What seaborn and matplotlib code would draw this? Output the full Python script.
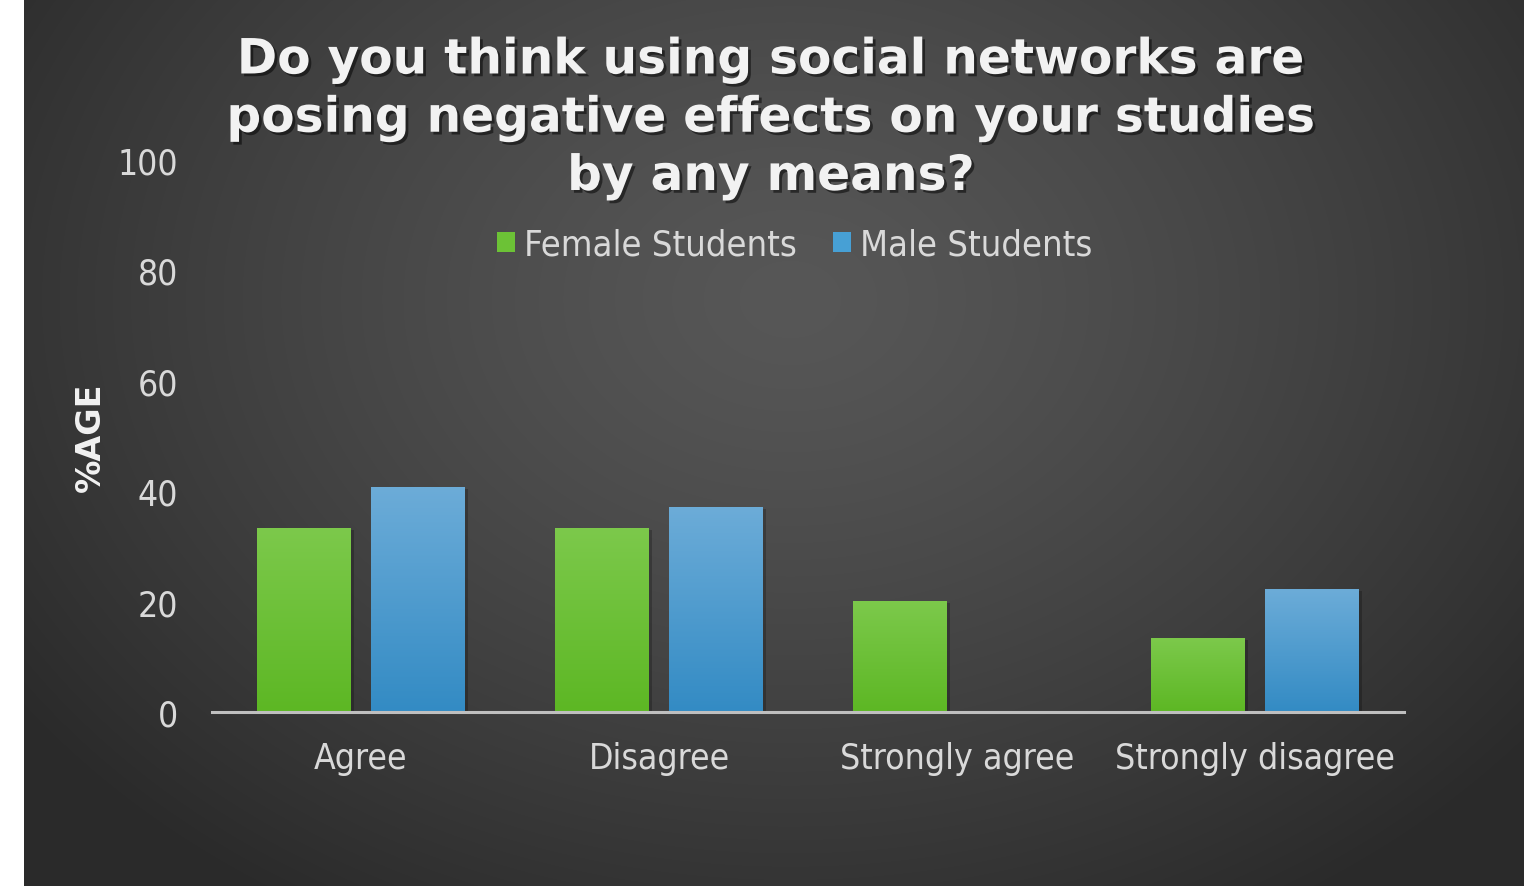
import numpy as np
import pandas as pd
import matplotlib
matplotlib.use("Agg")
import matplotlib.pyplot as plt
import matplotlib.font_manager as fm
from matplotlib import patheffects as pe
from matplotlib.colors import LinearSegmentedColormap
import seaborn as sns

# ---------------- data ----------------
categories = ["Agree", "Disagree", "Strongly agree", "Strongly disagree"]
series = ["Female Students", "Male Students"]
female = [33.3, 33.3, 20.0, 13.3]
male = [40.7, 37.0, 0.0, 22.2]
yticks = [0, 20, 40, 60, 80, 100]
title = ("Do you think using social networks are\n"
         "posing negative effects on your studies\n"
         "by any means?")
ylabel = "%AGE"

df = pd.DataFrame({
    "Response": categories * 2,
    "Group": [series[0]] * len(categories) + [series[1]] * len(categories),
    "Percent": female + male,
})

# ---------------- style ----------------
sns.set_theme(style="white")
plt.rcParams["font.family"] = ["DejaVu Sans"]

cond = [f.fname for f in fm.fontManager.ttflist
        if "condensed" in f.fname.lower() and "dejavusans" in f.fname.lower().replace("-", "")
        and "bold" not in f.fname.lower() and "oblique" not in f.fname.lower()]
if cond:
    fp_tick = fm.FontProperties(fname=cond[0], size=25.5)
    fp_leg = fm.FontProperties(fname=cond[0], size=26)
else:
    fp_tick = fm.FontProperties(family="DejaVu Sans", size=23.5)
    fp_leg = fm.FontProperties(family="DejaVu Sans", size=24)

W, H = 1532, 887
fig = plt.figure(figsize=(W / 100, H / 100), dpi=100, facecolor="white")

# background panel with radial gradient
bg = fig.add_axes([24 / W, 0, 1500 / W, 1], zorder=0)
yy, xx = np.mgrid[0:H, 24:1524]
r = np.sqrt(((xx - 790) / 950.0) ** 2 + ((yy - 300) / 720.0) ** 2)
r = np.clip(r, 0, 1)
light, dark = 0x57, 0x2a
val = (light - (light - dark) * r ** 1.3) / 255.0
bg.imshow(np.dstack([val, val, val]), aspect="auto", extent=(0, 1, 0, 1), origin="upper")
bg.set_xlim(0, 1)
bg.set_ylim(0, 1)
bg.axis("off")

# main axes
ax = fig.add_axes([212 / W, (H - 713) / H, 1192 / W, 552 / H], zorder=1)
ax.patch.set_alpha(0)

palette = {series[0]: "#6cc236", series[1]: "#47a0d5"}
sns.barplot(data=df, x="Response", y="Percent", hue="Group", palette=palette,
            width=0.765, gap=0.18, saturation=1, linewidth=0, edgecolor="none",
            ax=ax)

grads = [("#7cc94b", "#5db724"), ("#6cacd8", "#338bc4")]
for cont, (top, bot) in zip(ax.containers, grads):
    cmap = LinearSegmentedColormap.from_list("g", [top, bot])
    for p in cont.patches:
        h = p.get_height()
        if h <= 0:
            p.set_visible(False)
            continue
        x0, y0, w = p.get_x(), p.get_y(), p.get_width()
        p.set_path_effects([pe.SimplePatchShadow(offset=(2, -1), shadow_rgbFace="black", alpha=0.22),
                            pe.Normal()])
        ax.imshow(np.linspace(0, 1, 128).reshape(-1, 1), extent=(x0, x0 + w, y0, y0 + h),
                  origin="upper", cmap=cmap, aspect="auto", zorder=1.5)

ax.set_xlim(-0.5, 3.5)
ax.set_ylim(0, 100)
ax.set_yticks(yticks)
ax.set_xlabel("")
for s in ["top", "right", "left"]:
    ax.spines[s].set_visible(False)
ax.spines["bottom"].set_color("#bfbfbf")
ax.spines["bottom"].set_linewidth(2.2)
ax.spines["bottom"].set_zorder(3)
ax.tick_params(axis="both", length=0, colors="#d9d9d9")
ax.tick_params(axis="x", pad=21)
ax.tick_params(axis="y", pad=24.5)
for lbl in ax.get_xticklabels() + ax.get_yticklabels():
    lbl.set_fontproperties(fp_tick)
    lbl.set_color("#d9d9d9")

ax.set_ylabel(ylabel, fontsize=24, fontweight="bold", color="#f2f2f2")
ax.yaxis.set_label_coords(-0.088, 0.5)

sns.move_legend(ax, "center", bbox_to_anchor=(795 / W, 1 - 246 / H),
                bbox_transform=fig.transFigure, ncol=2, frameon=False, title=None,
                prop=fp_leg, labelcolor="#d9d9d9", handlelength=0.5,
                handleheight=0.5, handletextpad=0.25, columnspacing=1.0)

# va="baseline" with several lines anchors the last line's baseline
fig.text(771 / W, 1 - 191 / H, title, ha="center", va="baseline", multialignment="center",
         fontsize=35, fontweight="bold", color="#f2f2f2", linespacing=1.27,
         path_effects=[pe.withSimplePatchShadow(offset=(2, -2), shadow_rgbFace="black", alpha=0.5)])

fig.savefig("out.png", dpi=100, facecolor="white")
